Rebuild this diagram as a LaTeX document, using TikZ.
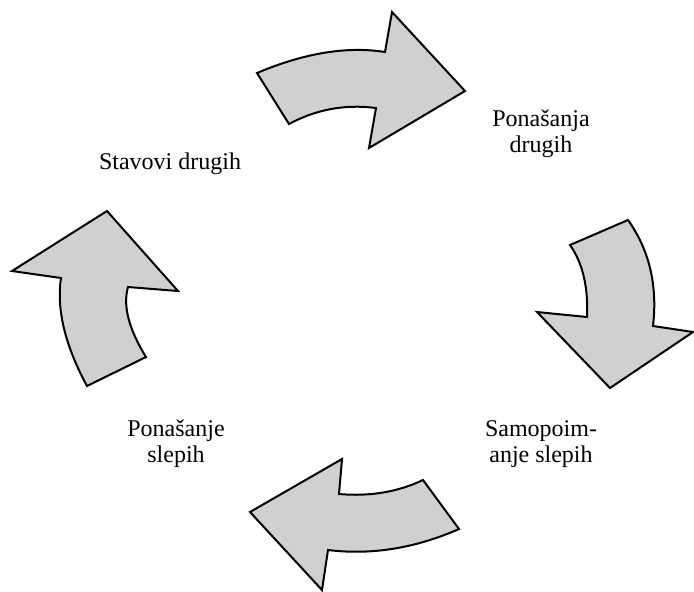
\documentclass[tikz,border=0pt]{standalone}
\usepackage{fontspec}
\setmainfont{Liberation Serif}
\definecolor{arrowfill}{RGB}{208,208,208}
\begin{document}
\begin{tikzpicture}[x=0.5pt,y=-0.5pt,
  bigarrow/.style={draw=black,fill=arrowfill,line width=1pt,line join=miter},
  lbl/.style={font=\fontsize{12}{13}\selectfont,align=center,inner sep=0pt,anchor=base}]
\useasboundingbox (0,0) rectangle (694,591);
% top arrow
\path[bigarrow] (257,73) .. controls (304.3,53) and (347,46) .. (385,52) -- (392,12) -- (465,91) -- (369,148) -- (376,108) .. controls (345.3,104) and (316.3,109.3) .. (289,124) -- cycle;
% right arrow
\path[bigarrow] (570,245) -- (628,220) .. controls (649.3,250) and (657.7,285.3) .. (653,326) -- (693,332) -- (610,388) -- (537,312) -- (587,317) .. controls (588.3,287) and (582.7,263) .. (570,245) -- cycle;
% bottom arrow
\path[bigarrow] (250,512) -- (342,459) -- (339,494) .. controls (369.7,496.7) and (397.7,492) .. (423,480) -- (459,529) .. controls (415,548.3) and (371.3,555.3) .. (328,550) -- (322,590) -- cycle;
% left arrow
\path[bigarrow] (107,211) -- (178,291) -- (128,287) .. controls (122.7,305.7) and (128.7,329) .. (146,357) -- (87,386) .. controls (65,345.3) and (56.3,309.3) .. (61,278) -- (12,271) -- cycle;
% labels
\node[lbl] (stav) at (170,169) {Stavovi drugih};
\node[lbl] (pond) at (541,152) {Ponašanja\\drugih};
\node[lbl] (samo) at (541,462) {Samopoim-\\anje slepih};
\node[lbl] (pons) at (176,462) {Ponašanje\\slepih};
\end{tikzpicture}
\end{document}
